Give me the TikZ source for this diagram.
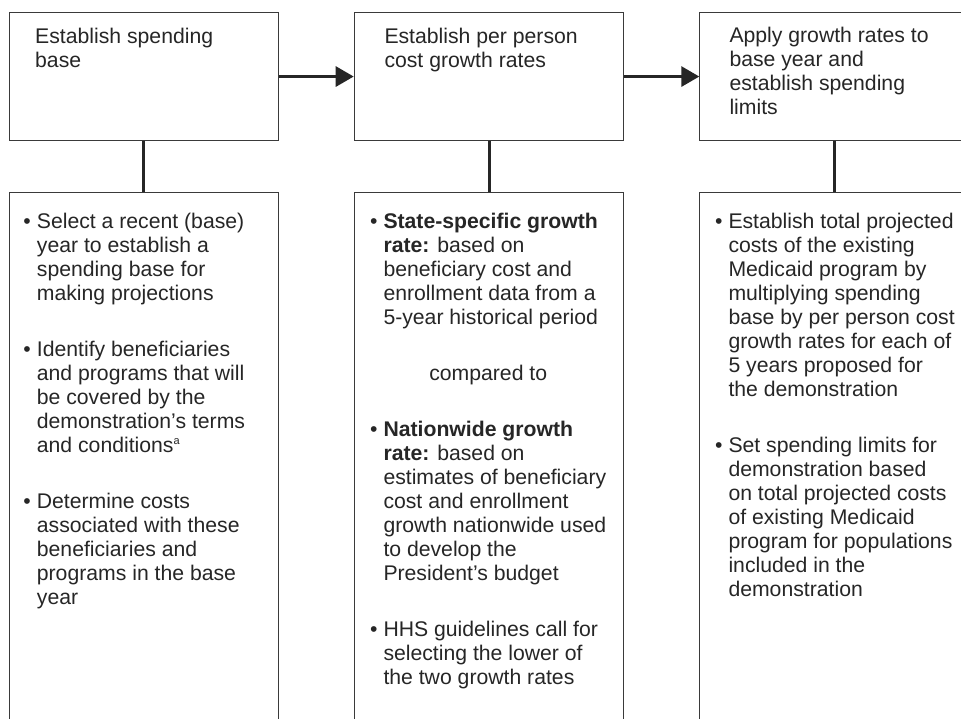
\documentclass[tikz,border=0pt]{standalone}
\usepackage{fontspec}
\setmainfont{Liberation Sans}
\usetikzlibrary{arrows.meta}
\definecolor{ink}{HTML}{262626}
\definecolor{frame}{HTML}{3A3A3A}
\newcommand{\mybul}{\strut\llap{\textbullet\hspace{6pt}}}
\newcommand{\mysup}[1]{\raisebox{8pt}{\fontsize{11}{11}\selectfont #1}}
\begin{document}
\begin{tikzpicture}[x=1pt,y=-1pt,
  box/.style={draw=frame,line width=1.1pt,minimum width=269.5pt,inner sep=0pt,anchor=north west},
  txt/.style={anchor=north west,align=left,inner sep=0pt,text=ink,font=\fontsize{21.2}{24}\selectfont},
  ctxt/.style={txt,anchor=base},
  link/.style={draw=ink,line width=3pt},
  flow/.style={link,-{Triangle[length=18pt,width=20pt]}}
]
\useasboundingbox (0,0) rectangle (961,719);
\fill[white] (0,0) rectangle (961,719);
\clip (0,0) rectangle (961,719);
% top boxes
\node[box,minimum height=128pt] (t1) at (8.5,12) {};
\node[box,minimum height=128pt] (t2) at (353.7,12) {};
\node[box,minimum height=128pt] (t3) at (699.3,12) {};
% bottom boxes
\node[box,minimum height=540pt] (b1) at (8.5,191.7) {};
\node[box,minimum height=540pt] (b2) at (353.7,191.7) {};
\node[box,minimum height=540pt] (b3) at (699.3,191.7) {};
% connectors
\draw[flow] (t1.east) -- (t2.west);
\draw[flow] (t2.east) -- (t3.west);
\draw[link] (t1.south) -- (b1.north);
\draw[link] (t2.south) -- (b2.north);
\draw[link] (t3.south) -- (b3.north);
% headings
\node[txt] (h1) at (35,26.5) {\strut Establish spending\\base};
\node[txt] (h2) at (384.3,26.5) {\strut Establish per person\\cost growth rates};
\node[txt] (h3) at (729.3,25.9) {\strut Apply growth rates to\\base year and\\establish spending\\limits};
% left column
\node[txt] (l1) at (36.7,211.5) {\mybul Select a recent (base)\\year to establish a\\spending base for\\making projections};
\node[txt] (l2) at (36.7,339.9) {\mybul Identify beneficiaries\\and programs that will\\be covered by the\\demonstration’s terms\\and conditions\mysup{a}};
\node[txt] (l3) at (36.7,491.5) {\mybul Determine costs\\associated with these\\beneficiaries and\\programs in the base\\year};
% middle column
\node[txt] (m1) at (383.3,211.5) {\mybul\textbf{State-specific growth}\\\textbf{rate:} based on\\beneficiary cost and\\enrollment data from a\\5-year historical period};
\node[ctxt] (m2) at (488.2,380) {compared to};
\node[txt] (m3) at (383.3,419.2) {\mybul\textbf{Nationwide growth}\\\textbf{rate:} based on\\estimates of beneficiary\\cost and enrollment\\growth nationwide used\\to develop the\\President’s budget};
\node[txt] (m4) at (383.3,619.9) {\mybul HHS guidelines call for\\selecting the lower of\\the two growth rates};
% right column
\node[txt] (r1) at (728.3,211.5) {\mybul Establish total projected\\costs of the existing\\Medicaid program by\\multiplying spending\\base by per person cost\\growth rates for each of\\5 years proposed for\\the demonstration};
\node[txt] (r2) at (728.3,435.7) {\mybul Set spending limits for\\demonstration based\\on total projected costs\\of existing Medicaid\\program for populations\\included in the\\demonstration};
\end{tikzpicture}
\end{document}
